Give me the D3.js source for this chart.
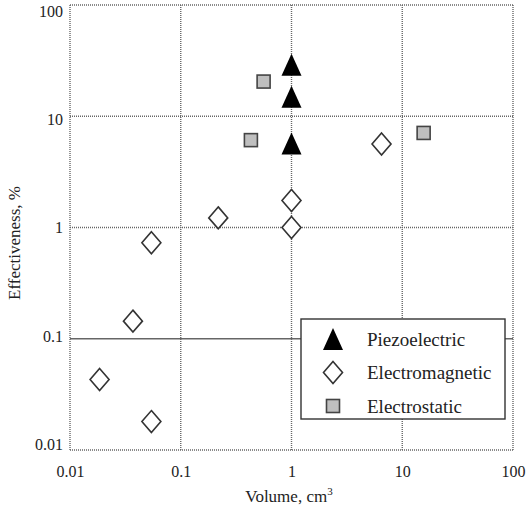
<!DOCTYPE html>
<html>
<head>
<meta charset="utf-8">
<script src="https://cdn.jsdelivr.net/npm/d3@7"></script>
<style>
  body { margin: 0; background: #fff; }
  text { font-family: "Liberation Serif", "Tinos", "Times New Roman", "DejaVu Serif", serif; fill: #222; }
</style>
</head>
<body>
<div id="chart"></div>
<script>
// data (volume in cm3, effectiveness in %)
const piezoVolume = [1.0, 1.0, 1.0];
const piezoEff = [29, 15, 5.7];

const magVolume = [6.5, 1.0, 1.0, 0.218, 0.0543, 0.037, 0.0185, 0.0543];
const magEff = [5.64, 1.75, 1.0, 1.22, 0.73, 0.144, 0.043, 0.018];

const staticVolume = [0.56, 0.43, 15.6];
const staticEff = [20.5, 6.1, 7.08];

const tickValues = [0.01, 0.1, 1, 10, 100];
const tickLabels = ["0.01", "0.1", "1", "10", "100"];
const legendNames = ["Piezoelectric", "Electromagnetic", "Electrostatic"];

const serif = '"Liberation Serif", "Tinos", "Times New Roman", "DejaVu Serif", serif';

// set the dimensions and margins of the graph
let margin = { top: 5, right: 14, bottom: 63, left: 70 },
  width = 527 - margin.left - margin.right,
  height = 513 - margin.top - margin.bottom;

let svg = d3
  .select("#chart")
  .append("svg")
  .attr("width", 527)
  .attr("height", 513)
  .append("g")
  .attr("transform", "translate(" + margin.left + "," + margin.top + ")");

let x = d3.scaleLog().domain([0.01, 100]).range([0, width]);
let y = d3.scaleLog().domain([0.01, 100]).range([height, 0]);
// the y tick labels sit a little inside the frame, like the original
let yLabel = d3.scaleLog().domain([0.01, 100]).range([height - 6, 6.5]);

// grid lines (dotted), one per decade
let grid = svg.append("g").attr("stroke", "#666").attr("stroke-width", 1.4);
grid
  .selectAll(".vgrid")
  .data(tickValues)
  .enter()
  .append("line")
  .attr("x1", (d) => x(d))
  .attr("x2", (d) => x(d))
  .attr("y1", 0)
  .attr("y2", height)
  .attr("stroke-dasharray", "1,1");
grid
  .selectAll(".hgrid")
  .data(tickValues)
  .enter()
  .append("line")
  .attr("x1", 0)
  .attr("x2", width)
  .attr("y1", (d) => y(d))
  .attr("y2", (d) => y(d))
  .attr("stroke-dasharray", (d) => (d === 0.1 ? null : "1,1"));

// axes, labels only
let xAxis = svg
  .append("g")
  .attr("transform", `translate(0,${height})`)
  .call(
    d3.axisBottom(x).tickValues(tickValues).tickSize(0).tickPadding(16)
      .tickFormat((d, i) => tickLabels[i])
  );
xAxis.select(".domain").remove();

let yAxis = svg
  .append("g")
  .call(
    d3.axisLeft(yLabel).tickValues(tickValues).tickSize(0).tickPadding(7)
      .tickFormat((d, i) => tickLabels[i])
  );
yAxis.select(".domain").remove();

svg.selectAll(".tick text")
  .style("font-family", serif)
  .style("font-size", "16px")
  .attr("fill", "#222");

// marker shapes
const triPath = "M0,-11L10,11L-10,11Z";
const diaPath = "M0,-11L9.5,0L0,11L-9.5,0Z";

function drawTri(g, cx, cy) {
  g.append("path")
    .attr("d", triPath)
    .attr("transform", `translate(${cx},${cy})`)
    .attr("fill", "#000");
}
function drawDia(g, cx, cy) {
  g.append("path")
    .attr("d", diaPath)
    .attr("transform", `translate(${cx},${cy})`)
    .attr("fill", "#fff")
    .attr("stroke", "#333")
    .attr("stroke-width", 1.6);
}
function drawSq(g, cx, cy) {
  g.append("rect")
    .attr("x", cx - 6.5)
    .attr("y", cy - 6.5)
    .attr("width", 13)
    .attr("height", 13)
    .attr("fill", "#bfbfbf")
    .attr("stroke", "#444")
    .attr("stroke-width", 1.6);
}

let marks = svg.append("g");
magVolume.forEach((v, i) => drawDia(marks, x(v), y(magEff[i])));
staticVolume.forEach((v, i) => drawSq(marks, x(v), y(staticEff[i])));
piezoVolume.forEach((v, i) => drawTri(marks, x(v), y(piezoEff[i])));

// axis titles
svg.append("text")
  .attr("x", 219)
  .attr("y", height + 52)
  .attr("text-anchor", "middle")
  .style("font-family", serif)
  .style("font-size", "17px")
  .html('Volume, cm<tspan dy="-7" font-size="11px">3</tspan>');

svg.append("text")
  .attr("transform", `translate(${-50},${238}) rotate(-90)`)
  .attr("text-anchor", "middle")
  .style("font-family", serif)
  .style("font-size", "17px")
  .text("Effectiveness, %");

// legend
let legend = svg.append("g").attr("transform", "translate(231,314)");
legend.append("rect")
  .attr("width", 204)
  .attr("height", 100)
  .attr("fill", "#fff")
  .attr("stroke", "#333")
  .attr("stroke-width", 1.4);
const rowY = [20, 53.5, 87];
drawTri(legend, 32, rowY[0]);
drawDia(legend, 32, rowY[1]);
drawSq(legend, 32, rowY[2]);
legend.selectAll(".lbl")
  .data(legendNames)
  .enter()
  .append("text")
  .attr("x", 66)
  .attr("y", (d, i) => rowY[i])
  .attr("dy", "0.35em")
  .style("font-family", serif)
  .style("font-size", "19px")
  .text((d) => d);
</script>
</body>
</html>
